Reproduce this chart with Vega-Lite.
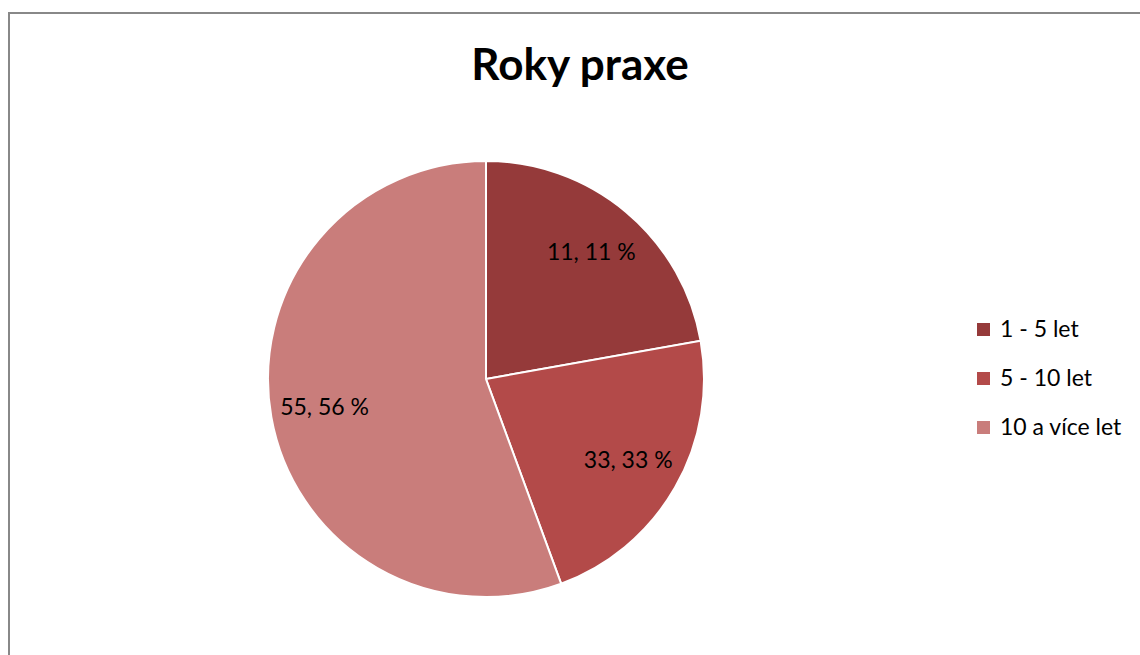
{
  "$schema": "https://vega.github.io/schema/vega-lite/v6.json",
  "autosize": {"type": "none"},
  "padding": {"left": 9, "top": 13, "right": 0, "bottom": 0},
  "width": 1140,
  "height": 650,
  "background": "white",
  "view": {"stroke": "#888888", "strokeWidth": 2},
  "config": {
    "font": "Lato"
  },
  "title": {
    "text": "Roky praxe",
    "font": "Lato",
    "fontSize": 44,
    "fontWeight": "bold",
    "color": "#000000",
    "anchor": "middle",
    "offset": -76,
    "dx": 1
  },
  "data": {
    "values": [
      {"kategorie": "1 - 5 let", "podil": 22.2, "popisek": "11, 11 %", "poradi": 1},
      {"kategorie": "5 - 10 let", "podil": 22.2, "popisek": "33, 33 %", "poradi": 2},
      {"kategorie": "10 a více let", "podil": 55.6, "popisek": "55, 56 %", "poradi": 3}
    ]
  },
  "encoding": {
    "theta": {"field": "podil", "type": "quantitative", "stack": true},
    "order": {"field": "poradi", "type": "quantitative"},
    "color": {
      "field": "kategorie",
      "type": "nominal",
      "sort": ["1 - 5 let", "5 - 10 let", "10 a více let"],
      "scale": {
        "domain": ["1 - 5 let", "5 - 10 let", "10 a více let"],
        "range": ["#953a3a", "#b34a49", "#c97d7b"]
      },
      "legend": {
        "title": null,
        "orient": "none",
        "legendX": 963,
        "legendY": 305,
        "symbolType": "square",
        "symbolSize": 169,
        "symbolStrokeWidth": 0,
        "labelFont": "Lato",
        "labelFontSize": 23,
        "labelColor": "#000000",
        "labelOffset": 5,
        "rowPadding": 25,
        "padding": 0
      }
    }
  },
  "layer": [
    {
      "mark": {"type": "arc", "outerRadius": 218, "stroke": "white", "strokeWidth": 2, "xOffset": -93, "yOffset": 41}
    },
    {
      "mark": {"type": "text", "radius": 164, "fontSize": 23, "font": "Lato", "color": "#000000", "align": "center", "baseline": "middle", "xOffset": -93, "yOffset": 41},
      "encoding": {
        "text": {"field": "popisek", "type": "nominal"},
        "color": {"value": "#000000"}
      }
    }
  ]
}
